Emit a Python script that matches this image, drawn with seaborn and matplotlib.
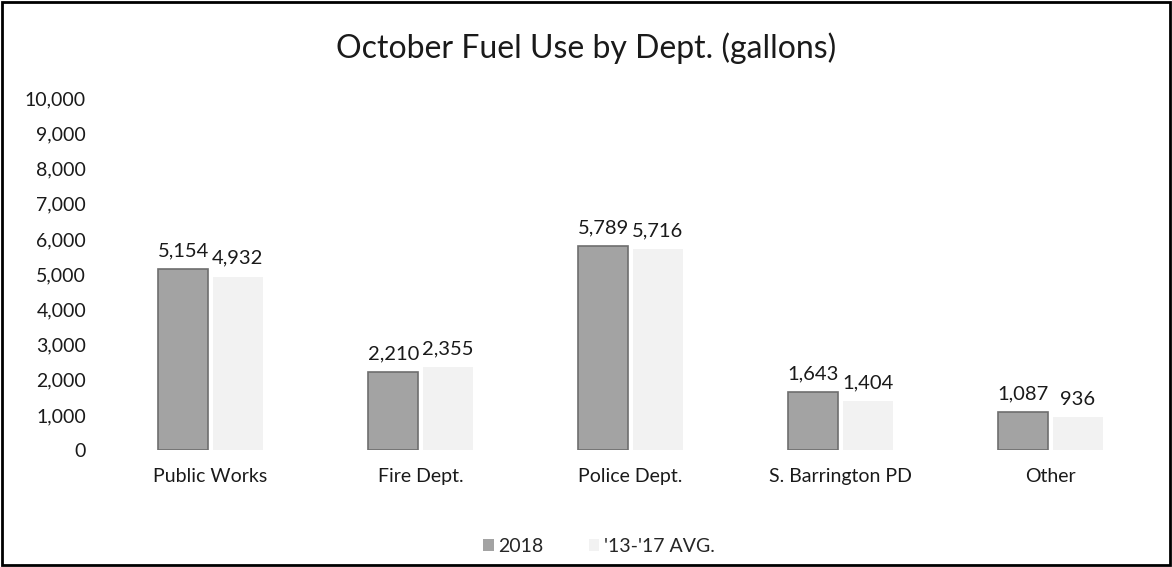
import matplotlib
matplotlib.use("Agg")
from matplotlib import pyplot as plt
from matplotlib.patches import Rectangle
import seaborn as sns
import pandas as pd

departments = ["Public Works", "Fire Dept.", "Police Dept.", "S. Barrington PD", "Other"]
series_names = ["2018", "'13-'17 AVG."]
fuel_2018 = [5154, 2210, 5789, 1643, 1087]
fuel_avg = [4932, 2355, 5716, 1404, 936]
y_ticks = list(range(0, 10001, 1000))

df = pd.DataFrame({
    "dept": departments * 2,
    "series": [series_names[0]] * len(departments) + [series_names[1]] * len(departments),
    "gallons": fuel_2018 + fuel_avg,
})

sns.set_style("white")
plt.rcParams['font.family'] = ['Lato', 'DejaVu Sans']

fig = plt.figure(figsize=(11.72, 5.67), dpi=100)
ax = fig.add_axes([0.090, 0.206, 0.896, 0.621])

sns.barplot(data=df, x="dept", y="gallons", hue="series",
            palette=["#a3a3a3", "#f2f2f2"], width=0.52, gap=0.08,
            edgecolor="none", ax=ax)

# darker outline on the 2018 bars like the scanned image
for bar in ax.containers[0]:
    bar.set_edgecolor("#6e6e6e")
    bar.set_linewidth(1.2)

for cont in ax.containers:
    ax.bar_label(cont, labels=[f"{v:,.0f}" for v in cont.datavalues],
                 padding=7, fontsize=14.5, color="#1a1a1a")

ax.set_ylim(0, 10000)
ax.set_yticks(y_ticks)
ax.set_yticklabels([f"{t:,}" for t in y_ticks], fontsize=14, color="#1a1a1a")
ax.tick_params(axis="x", labelsize=14, colors="#1a1a1a", pad=13, length=0)
ax.tick_params(axis="y", length=0, pad=14)
ax.set_xlabel("")
ax.set_ylabel("")
sns.despine(ax=ax, left=True, bottom=True)

ax.legend(loc="upper center", bbox_to_anchor=(0.47, -0.2), ncol=2, frameon=False,
          fontsize=14, handlelength=0.55, handleheight=0.55, handletextpad=0.25,
          columnspacing=2.3)

fig.text(0.5, 0.915, "October Fuel Use by Dept. (gallons)", ha="center", va="center",
         fontsize=23, color="#1a1a1a")

fig.patches.append(Rectangle((0.002, 0.004), 0.996, 0.992, transform=fig.transFigure,
                             fill=False, edgecolor="black", linewidth=2))

fig.savefig("out.png", dpi=100)
